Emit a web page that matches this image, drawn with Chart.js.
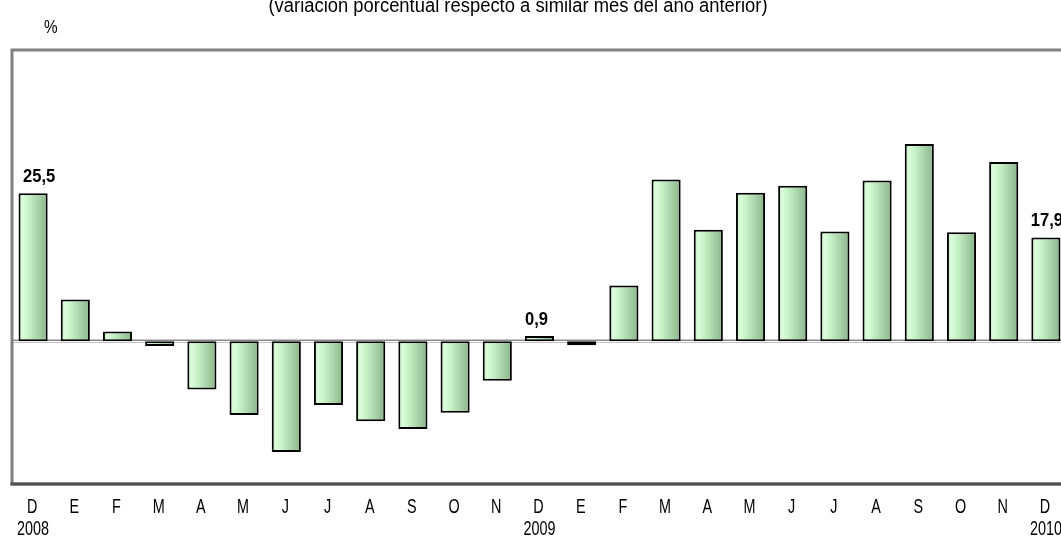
<!DOCTYPE html>
<html>
<head>
<meta charset="utf-8">
<script src="https://cdn.jsdelivr.net/npm/chart.js@4/dist/chart.umd.min.js"></script>
<style>
  html, body { margin: 0; padding: 0; background: #fff; overflow: hidden; }
  body { width: 1061px; height: 536px; position: relative; }
  #wrap { position: absolute; left: 0; top: 0; width: 1070px; height: 536px; }
  .txt { position: absolute; font-family: "Liberation Sans", Arial, sans-serif; color: #000; white-space: nowrap; line-height: 20px; }
  #title { left: 518px; top: -5px; font-size: 20px; transform: translateX(-46%) scaleX(0.92); transform-origin: 0 0; }
  #unit { left: 44px; top: 17px; font-size: 18px; transform: scaleX(0.85); transform-origin: 0 0; }
</style>
</head>
<body>
<div id="wrap"><canvas id="chart" width="1070" height="536"></canvas></div>
<div class="txt" id="title">(variación porcentual respecto a similar mes del año anterior)</div>
<div class="txt" id="unit">%</div>
<script>
// meses desde dic-2008 hasta dic-2010
const meses = ['D','E','F','M','A','M','J','J','A','S','O','N','D','E','F','M','A','M','J','J','A','S','O','N','D'];
const anios = { 0: '2008', 12: '2009', 24: '2010' };
const variacion = [25.5, 7.2, 1.7, -0.8, -8.3, -12.7, -19.1, -11.0, -13.8, -15.1, -12.3, -6.8,
                   0.9, -0.7, 9.6, 27.9, 19.2, 25.6, 26.8, 18.9, 27.7, 34.0, 18.8, 30.9, 17.9];
const etiquetas = { 0: '25,5', 12: '0,9', 24: '17,9' };

const FONT = '"Liberation Sans", Arial, sans-serif';
const despl = { 0: 6, 12: -3, 24: 1 };   // corrimiento horizontal de los rótulos

function barGradient(context) {
    const chart = context.chart;
    const xs = chart.scales.x;
    if (!xs || !chart.chartArea) return '#b8e6b8';
    const cx = xs.getPixelForValue(context.dataIndex);
    const w = (xs.width / meses.length) * 0.69;
    const g = chart.ctx.createLinearGradient(cx - w / 2, 0, cx + w / 2, 0);
    g.addColorStop(0, '#bcecbc');
    g.addColorStop(0.15, '#dcfddc');
    g.addColorStop(0.35, '#c6f2c6');
    g.addColorStop(1, '#8ab48a');
    return g;
}

// texto angosto (tipo Arial Narrow)
function narrowText(ctx, text, x, y, sx) {
    ctx.save();
    ctx.translate(x, y);
    ctx.scale(sx, 1);
    ctx.fillText(text, 0, 0);
    ctx.restore();
}

// marco del área, línea del cero, rótulos de valores y del eje x
const extras = {
    id: 'extras',
    beforeDatasetsDraw(chart) {
        const { ctx, chartArea: a, scales: { y } } = chart;
        const y0 = Math.round(y.getPixelForValue(0));
        ctx.save();
        ctx.strokeStyle = '#8a8a8a';
        ctx.lineWidth = 3;
        ctx.beginPath();
        ctx.moveTo(a.left, y0);
        ctx.lineTo(a.right, y0);
        ctx.stroke();
        ctx.strokeStyle = '#ffffff';
        ctx.lineWidth = 1;
        ctx.beginPath();
        ctx.moveTo(a.left, y0 + 0.5);
        ctx.lineTo(a.right, y0 + 0.5);
        ctx.stroke();
        ctx.restore();
    },
    afterDatasetsDraw(chart) {
        const { ctx, chartArea: a, scales: { x } } = chart;
        ctx.save();
        ctx.strokeStyle = '#808080';
        ctx.lineWidth = 3;
        ctx.strokeRect(a.left, a.top, a.right - a.left, a.bottom - a.top);
        ctx.strokeStyle = '#505050';
        ctx.beginPath();
        ctx.moveTo(a.left - 1.5, a.bottom);
        ctx.lineTo(a.right, a.bottom);
        ctx.stroke();

        const meta = chart.getDatasetMeta(0);
        ctx.fillStyle = '#000';
        ctx.font = 'bold 18px ' + FONT;
        ctx.textAlign = 'center';
        ctx.textBaseline = 'alphabetic';
        Object.keys(etiquetas).forEach(k => {
            const bar = meta.data[k];
            const top = Math.min(bar.y, bar.base);
            narrowText(ctx, etiquetas[k], bar.x + despl[k], top - 11, 0.92);
        });

        ctx.font = '20px ' + FONT;
        meses.forEach((m, i) => {
            const px = x.getPixelForValue(i);
            narrowText(ctx, m, px - 1, a.bottom + 29, 0.72);
            if (anios[i]) narrowText(ctx, anios[i], px, a.bottom + 51, 0.72);
        });
        ctx.restore();
    }
};

new Chart(document.getElementById('chart'), {
    type: 'bar',
    data: {
        labels: meses,
        datasets: [{
            data: variacion,
            backgroundColor: barGradient,
            borderColor: '#000',
            borderWidth: 2,
            borderSkipped: false,
            categoryPercentage: 0.69,
            barPercentage: 1
        }]
    },
    options: {
        responsive: false,
        animation: false,
        layout: { padding: { left: 12, right: 3, top: 50, bottom: 0 } },
        plugins: { legend: { display: false }, tooltip: { enabled: false } },
        scales: {
            x: {
                grid: { display: false, drawTicks: false },
                border: { display: false },
                ticks: { display: false },
                afterFit(scale) { scale.height = 52; }
            },
            y: {
                display: false,
                min: -24.6,
                max: 50.2
            }
        }
    },
    plugins: [extras]
});
</script>
</body>
</html>
